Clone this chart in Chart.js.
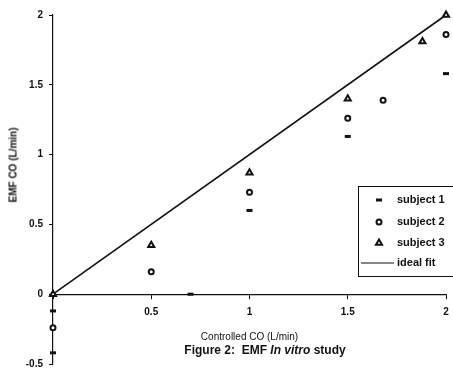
<!DOCTYPE html>
<html>
<head>
<meta charset="utf-8">
<script src="https://cdn.jsdelivr.net/npm/chart.js@4"></script>
<style>
  body { margin: 0; background: #fff; }
  #wrap { position: relative; width: 453px; height: 371px; }
  #chart { display: block; }
  #caption {
    position: absolute; left: 165px; top: 343px; width: 200px; text-align: center;
    font: bold 12px "Liberation Sans", Arial, sans-serif; color: #111; white-space: pre;
  }
  #ytitle {
    position: absolute; left: 13px; top: 165px; transform: translate(-50%, -50%) rotate(-90deg);
    font: bold 10px "Liberation Sans", Arial, sans-serif; color: #111; white-space: pre;
  }
</style>
</head>
<body>
<div id="wrap">
  <canvas id="chart" width="453" height="371"></canvas>
  <div id="ytitle">EMF CO (L/min)</div>
  <div id="caption">Figure 2:  EMF <i>In vitro</i> study</div>
</div>
<script>
// values
const sub1X = [0, 0, 0.7, 1, 1.5, 2];
const sub1Y = [-0.12, -0.42, 0, 0.6, 1.13, 1.58];
const sub2X = [0, 0.5, 1, 1.5, 1.68, 2];
const sub2Y = [-0.24, 0.16, 0.73, 1.26, 1.39, 1.86];
const sub3X = [0, 0.5, 1, 1.5, 1.88, 2];
const sub3Y = [0, 0.35, 0.87, 1.4, 1.81, 2.0];
const fitX = [0, 2];
const fitY = [0, 2];
const seriesNames = ["subject 1", "subject 2", "subject 3", "ideal fit"];

const ink = "#111";
const tickFont = { family: "'Liberation Sans', Arial, sans-serif", size: 10, weight: "bold" };

function toPoints(xs, ys) {
  return xs.map((x, i) => ({ x: x, y: ys[i] }));
}

// legend in a box inside the plot, like the scanned original
const boxLegend = {
  id: "boxLegend",
  afterDraw(chart) {
    const ctx = chart.ctx;
    const left = 358, top = 186, w = 96, h = 90;
    const rows = [200, 222, 243, 263];
    ctx.save();
    ctx.strokeStyle = ink;
    ctx.lineWidth = 1;
    ctx.strokeRect(left + 0.5, top + 0.5, w, h);
    ctx.font = "bold 11px 'Liberation Sans', Arial, sans-serif";
    ctx.textBaseline = "middle";
    chart.data.datasets.forEach((ds, i) => {
      const y = rows[i];
      ctx.strokeStyle = ink;
      if (ds.showLine) {
        ctx.beginPath();
        ctx.moveTo(left + 3, y);
        ctx.lineTo(left + 36, y);
        ctx.lineWidth = 1.2;
        ctx.stroke();
      } else {
        ctx.fillStyle = ds.backgroundColor;
        ctx.strokeStyle = ds.borderColor;
        ctx.lineWidth = ds.borderWidth;
        Chart.helpers.drawPoint(ctx, {
          pointStyle: ds.pointStyle,
          radius: ds.pointRadius,
          borderWidth: ds.borderWidth,
          rotation: 0
        }, left + 21, y);
      }
      ctx.fillStyle = ink;
      ctx.fillText(ds.label, left + 39, y);
    });
    ctx.restore();
  }
};

new Chart(document.getElementById("chart"), {
  type: "scatter",
  data: {
    datasets: [
      {
        label: seriesNames[0],
        data: toPoints(sub1X, sub1Y),
        pointStyle: "line",
        pointRadius: 3,
        borderWidth: 3,
        borderColor: ink,
        backgroundColor: ink,
        clip: false
      },
      {
        label: seriesNames[1],
        data: toPoints(sub2X, sub2Y),
        pointStyle: "circle",
        pointRadius: 2.5,
        borderWidth: 2,
        borderColor: ink,
        backgroundColor: "#fff",
        clip: false
      },
      {
        label: seriesNames[2],
        data: toPoints(sub3X, sub3Y),
        pointStyle: "triangle",
        pointRadius: 3.5,
        borderWidth: 2,
        borderColor: ink,
        backgroundColor: "#fff",
        clip: false
      },
      {
        label: seriesNames[3],
        data: toPoints(fitX, fitY),
        showLine: true,
        pointRadius: 0,
        borderWidth: 1.6,
        borderColor: ink,
        clip: false
      }
    ]
  },
  options: {
    responsive: false,
    animation: false,
    layout: { padding: { left: 0, right: 6, top: 15, bottom: 5 } },
    plugins: {
      legend: { display: false },
      tooltip: { enabled: false }
    },
    scales: {
      x: {
        type: "linear",
        position: { y: 0 },
        min: 0,
        max: 2,
        border: { color: ink, width: 1.2 },
        grid: { drawOnChartArea: false, tickLength: 4, color: ink },
        ticks: {
          stepSize: 0.5,
          color: ink,
          font: tickFont,
          padding: 8,
          maxRotation: 0,
          callback: (v) => (v === 0 ? "" : String(v))
        },
        title: {
          display: true,
          text: "Controlled CO (L/min)",
          color: ink,
          font: { family: "'Liberation Sans', Arial, sans-serif", size: 10 },
          padding: { top: 5 }
        },
        afterFit(scale) {
          scale.paddingLeft = 0;
          scale.paddingRight = 3;
        }
      },
      y: {
        type: "linear",
        min: -0.5,
        max: 2,
        border: { color: ink, width: 1.2 },
        grid: { drawOnChartArea: false, tickLength: 4, color: ink },
        ticks: {
          stepSize: 0.5,
          color: ink,
          font: tickFont,
          padding: 6,
          callback: (v) => String(v)
        },
        afterFit(scale) {
          scale.width = 53;
          scale.paddingTop = 6;
          scale.paddingBottom = 5;
        }
      }
    }
  },
  plugins: [boxLegend]
});
</script>
</body>
</html>
